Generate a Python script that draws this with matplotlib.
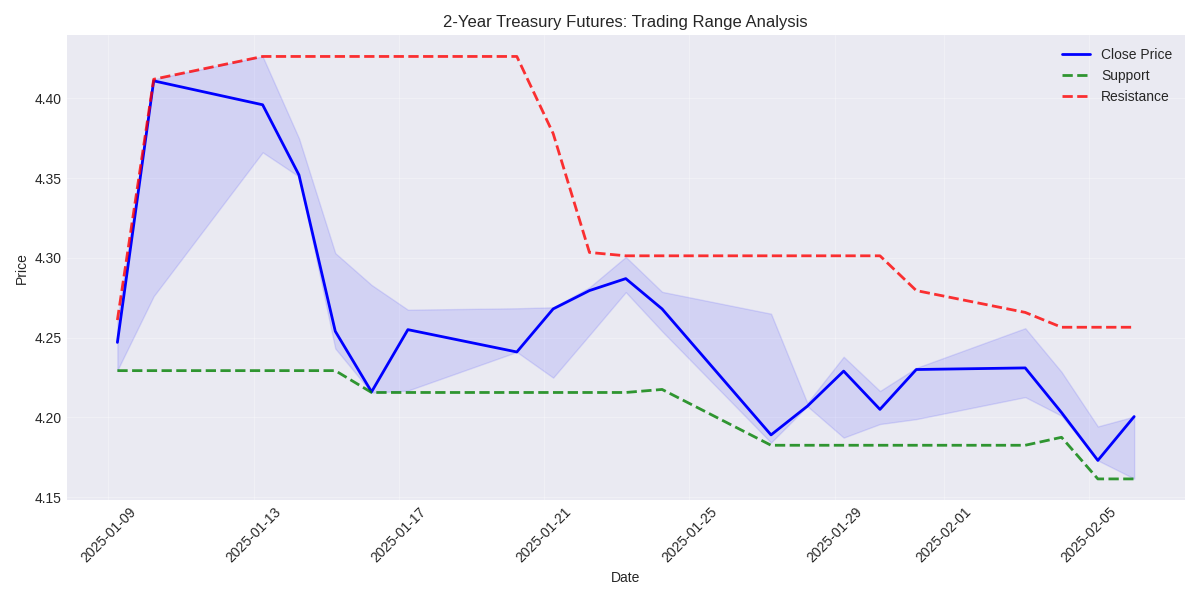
import numpy as np
import pandas as pd
import matplotlib
matplotlib.use("Agg")
import matplotlib.pyplot as plt

# trading days (timestamps carry a 06:00 UTC offset like the source data)
days = ['2025-01-09', '2025-01-10', '2025-01-13', '2025-01-14', '2025-01-15',
        '2025-01-16', '2025-01-17', '2025-01-20', '2025-01-21', '2025-01-22',
        '2025-01-23', '2025-01-24', '2025-01-27', '2025-01-28', '2025-01-29',
        '2025-01-30', '2025-01-31', '2025-02-03', '2025-02-04', '2025-02-05',
        '2025-02-06']
dates = pd.to_datetime(days) + pd.Timedelta(hours=6)

close = [4.247, 4.411, 4.396, 4.352, 4.254, 4.216, 4.255, 4.241, 4.268, 4.2795,
         4.287, 4.268, 4.189, 4.207, 4.229, 4.205, 4.230, 4.231, 4.203, 4.173,
         4.2005]
high = [4.261, 4.412, 4.4263, 4.375, 4.303, 4.283, 4.2675, 4.2684, 4.269, 4.2815,
        4.3006, 4.2787, 4.265, 4.209, 4.238, 4.2165, 4.231, 4.2559, 4.2285, 4.1943,
        4.2005]
low = [4.2295, 4.276, 4.3662, 4.351, 4.2432, 4.2155, 4.2168, 4.241, 4.2249, 4.2516,
       4.2785, 4.254, 4.1842, 4.207, 4.1873, 4.1958, 4.1989, 4.2127, 4.201, 4.173,
       4.1616]
support = [4.2293, 4.2293, 4.2293, 4.2293, 4.2293, 4.2156, 4.2156, 4.2156, 4.2156,
           4.2156, 4.2156, 4.2175, 4.1825, 4.1825, 4.1825, 4.1825, 4.1825, 4.1825,
           4.1875, 4.1614, 4.1614]
resistance = [4.261, 4.412, 4.4263, 4.4263, 4.4263, 4.4263, 4.4263, 4.4263, 4.378,
              4.3034, 4.3013, 4.3013, 4.3013, 4.3013, 4.3013, 4.3013, 4.2795, 4.2658,
              4.2565, 4.2565, 4.2565]

plt.style.use('seaborn-v0_8-darkgrid')
fig, ax = plt.subplots(figsize=(12, 6), dpi=100)

ax.plot(dates, close, color='blue', linewidth=2, label='Close Price')
ax.plot(dates, support, 'g--', alpha=0.8, linewidth=2, label='Support')
ax.plot(dates, resistance, 'r--', alpha=0.8, linewidth=2, label='Resistance')
ax.fill_between(dates, low, high, color='blue', alpha=0.1)

ax.set_title('2-Year Treasury Futures: Trading Range Analysis')
ax.set_xlabel('Date')
ax.set_ylabel('Price')
ax.legend(loc='upper right')
ax.grid(True, alpha=0.3)
plt.xticks(rotation=45)
plt.tight_layout()
plt.savefig('out.png')
